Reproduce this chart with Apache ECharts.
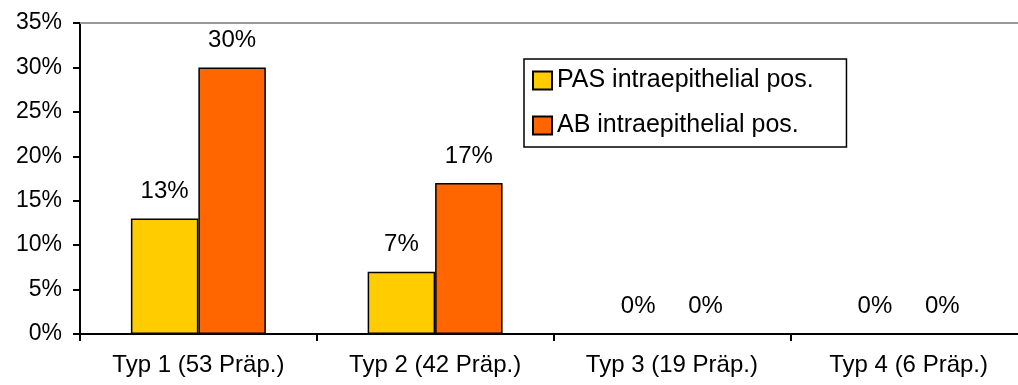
<!DOCTYPE html>
<html>
<head>
<meta charset="utf-8">
<script src="https://cdn.jsdelivr.net/npm/echarts@6/dist/echarts.min.js"></script>
<style>
  html, body { margin: 0; padding: 0; background: #fff; overflow: hidden; }
  /* the plot area runs slightly past the right edge of the window */
  #chart { width: 1030px; height: 385px; }
</style>
</head>
<body>
<div id="chart"></div>
<script>
// Share of positive intraepithelial staining per type
const categories = ['Typ 1 (53 Präp.)', 'Typ 2 (42 Präp.)', 'Typ 3 (19 Präp.)', 'Typ 4 (6 Präp.)'];
const pasValues = [13, 7, 0, 0];
const abValues = [30, 17, 0, 0];
const seriesNames = ['PAS intraepithelial pos.', 'AB intraepithelial pos.'];

const FONT = '"Liberation Sans", Arial, sans-serif';
const chart = echarts.init(document.getElementById('chart'));

const valueLabel = {
  show: true,
  position: 'top',
  distance: 15,
  formatter: '{c}%',
  color: '#000',
  fontSize: 24,
  fontFamily: FONT
};

chart.setOption({
  backgroundColor: '#fff',
  animation: false,
  grid: { left: 80, right: 3, top: 23, bottom: 51 },
  legend: {
    orient: 'vertical',
    left: 524,
    top: 59,
    padding: [9, 12, 9, 8],
    itemWidth: 19,
    itemHeight: 18,
    itemGap: 20,
    borderColor: '#000',
    borderWidth: 1.5,
    backgroundColor: '#fff',
    icon: 'rect',
    formatter: function (name) { return name + '   '; },
    textStyle: { fontSize: 25, fontFamily: FONT, color: '#000' },
    data: seriesNames
  },
  xAxis: [
    {
      type: 'category',
      data: categories,
      axisLine: { lineStyle: { color: '#000', width: 2 } },
      axisTick: { show: true, length: 7, lineStyle: { color: '#000', width: 2 } },
      axisLabel: { color: '#000', fontSize: 24, fontFamily: FONT, margin: 19 }
    },
    {
      type: 'category',
      position: 'top',
      data: categories,
      axisLine: { lineStyle: { color: '#999', width: 2 } },
      axisTick: { show: false },
      axisLabel: { show: false }
    }
  ],
  yAxis: {
    type: 'value',
    min: 0,
    max: 35,
    interval: 5,
    axisLine: { show: true, lineStyle: { color: '#000', width: 2 } },
    axisTick: { show: true, length: 7, lineStyle: { color: '#000', width: 2 } },
    splitLine: { show: false },
    axisLabel: { color: '#000', fontSize: 23, fontFamily: FONT, margin: 18, formatter: '{value}%' }
  },
  series: [
    {
      name: seriesNames[0],
      type: 'bar',
      data: pasValues,
      barWidth: '28.5%',
      barGap: '0%',
      itemStyle: { color: '#FFCC00', borderColor: '#000', borderWidth: 1.5 },
      label: valueLabel
    },
    {
      name: seriesNames[1],
      type: 'bar',
      data: abValues,
      barWidth: '28.5%',
      barGap: '0%',
      itemStyle: { color: '#FF6600', borderColor: '#000', borderWidth: 1.5 },
      label: valueLabel
    }
  ]
});
</script>
</body>
</html>
